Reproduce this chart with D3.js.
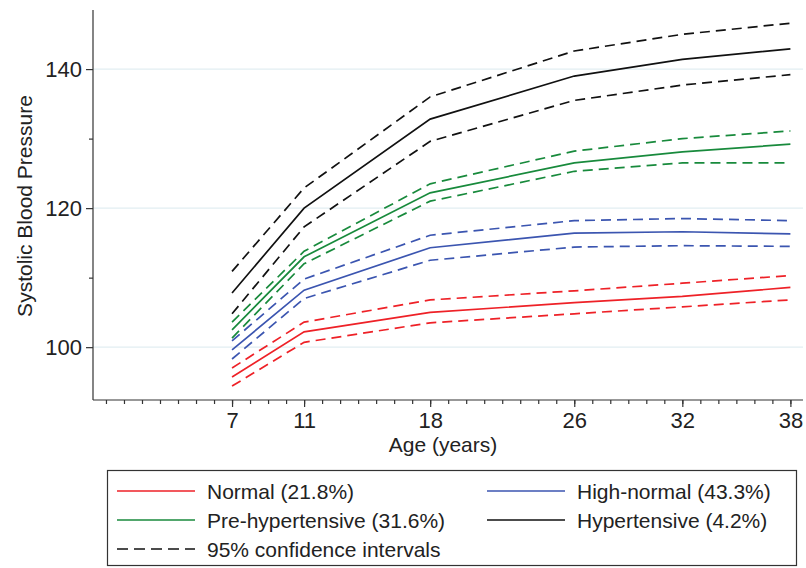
<!DOCTYPE html>
<html>
<head>
<meta charset="utf-8">
<script src="https://cdn.jsdelivr.net/npm/d3@7.9.0/dist/d3.min.js"></script>
<style>
  html, body { margin: 0; padding: 0; background: #fff; }
  svg { display: block; font-family: "Liberation Sans", Arial, sans-serif; }
</style>
</head>
<body>
<svg id="chart" width="806" height="568"></svg>
<script>
// --- data ---
const ages = [7, 11, 18, 26, 32, 38];
const groups = ['Normal (21.8%)', 'High-normal (43.3%)', 'Pre-hypertensive (31.6%)', 'Hypertensive (4.2%)'];
const groupColors = ['#ee2127', '#3b55b0', '#188a3c', '#111111'];

const normalMean = [95.7, 102.2, 105.0, 106.4, 107.3, 108.6];
const normalUpper = [97.0, 103.6, 106.8, 108.1, 109.2, 110.3];
const normalLower = [94.4, 100.7, 103.5, 104.8, 105.8, 106.8];

const highNormalMean = [99.6, 108.2, 114.3, 116.4, 116.6, 116.3];
const highNormalUpper = [100.9, 109.8, 116.1, 118.2, 118.5, 118.2];
const highNormalLower = [98.3, 107.0, 112.5, 114.4, 114.6, 114.5];

const preHyperMean = [102.5, 113.0, 122.2, 126.5, 128.1, 129.2];
const preHyperUpper = [103.6, 113.8, 123.5, 128.2, 130.0, 131.1];
const preHyperLower = [101.3, 112.0, 121.0, 125.3, 126.5, 126.5];

const hyperMean = [107.8, 120.0, 132.8, 139.0, 141.4, 142.9];
const hyperUpper = [110.9, 122.9, 136.0, 142.6, 145.0, 146.6];
const hyperLower = [104.8, 117.3, 129.6, 135.5, 137.7, 139.2];

const yTicks = [100, 120, 140];
const yMinorTicks = [110, 130];
const xMinorTicks = d3.range(0, 39);

const series = [
  { mean: normalMean, upper: normalUpper, lower: normalLower },
  { mean: highNormalMean, upper: highNormalUpper, lower: highNormalLower },
  { mean: preHyperMean, upper: preHyperUpper, lower: preHyperLower },
  { mean: hyperMean, upper: hyperUpper, lower: hyperLower }
];

// --- scales ---
const svg = d3.select('#chart');
const plotLeft = 93, plotRight = 803, plotTop = 10, plotBottom = 400;

const x = d3.scaleLinear().domain([-0.72, 38.7]).range([plotLeft, plotRight]);
const y = d3.scaleLinear().domain([92.4, 148.5]).range([plotBottom, plotTop]);

// gridlines
svg.append('g')
  .selectAll('line')
  .data(yTicks)
  .join('line')
  .attr('x1', plotLeft).attr('x2', plotRight)
  .attr('y1', d => y(d)).attr('y2', d => y(d))
  .attr('stroke', '#e2eef2').attr('stroke-width', 1.2);

// y axis
const yAxis = svg.append('g')
  .attr('transform', `translate(${plotLeft},0)`)
  .call(d3.axisLeft(y).tickValues(yTicks).tickSize(7).tickPadding(4).tickFormat(d3.format('d')));
yAxis.select('.domain').attr('d', `M0,${plotTop}V${plotBottom}`);
svg.append('g')
  .attr('transform', `translate(${plotLeft},0)`)
  .call(d3.axisLeft(y).tickValues(yMinorTicks).tickSize(4).tickFormat(''))
  .select('.domain').remove();

// x axis
const xAxis = svg.append('g')
  .attr('transform', `translate(0,${plotBottom})`)
  .call(d3.axisBottom(x).tickValues(ages).tickSize(7).tickPadding(5).tickFormat(d3.format('d')));
xAxis.select('.domain').attr('d', `M${plotLeft},0H${plotRight}`);
svg.append('g')
  .attr('transform', `translate(0,${plotBottom})`)
  .call(d3.axisBottom(x).tickValues(xMinorTicks).tickSize(4).tickFormat(''))
  .select('.domain').remove();

svg.selectAll('.domain, .tick line').attr('stroke', '#333').attr('stroke-width', 1.2);
svg.selectAll('.tick text').attr('font-size', 22).attr('fill', '#222')
  .attr('font-family', '"Liberation Sans", Arial, sans-serif');

// axis titles
svg.append('text')
  .attr('x', 443).attr('y', 452)
  .attr('text-anchor', 'middle')
  .attr('font-size', 21).attr('fill', '#222')
  .text('Age (years)');
svg.append('text')
  .attr('transform', `translate(32,${206}) rotate(-90)`)
  .attr('text-anchor', 'middle')
  .attr('font-size', 21).attr('fill', '#222')
  .text('Systolic Blood Pressure');

// --- lines ---
const line = d3.line()
  .x((d, i) => x(ages[i]))
  .y(d => y(d));

const plot = svg.append('g');
series.forEach((s, i) => {
  ['upper', 'lower'].forEach(k => {
    plot.append('path')
      .attr('d', line(s[k]))
      .attr('fill', 'none')
      .attr('stroke', groupColors[i])
      .attr('stroke-width', 1.7)
      .attr('stroke-dasharray', '10,6');
  });
  plot.append('path')
    .attr('d', line(s.mean))
    .attr('fill', 'none')
    .attr('stroke', groupColors[i])
    .attr('stroke-width', 1.7);
});

// --- legend ---
const legend = svg.append('g');
legend.append('rect')
  .attr('x', 107.5).attr('y', 470.5)
  .attr('width', 689).attr('height', 95)
  .attr('fill', '#fff').attr('stroke', '#333').attr('stroke-width', 1.2);

const legendItems = groups.map((g, i) => ({
  label: g, color: groupColors[i], dash: null,
  col: i % 2, row: Math.floor(i / 2)
}));
legendItems.push({ label: '95% confidence intervals', color: '#111', dash: '11,6', col: 0, row: 2 });

const colX = [117, 487];
const rowY = [491, 520, 549];

const li = legend.selectAll('g.item')
  .data(legendItems)
  .join('g')
  .attr('class', 'item')
  .attr('transform', d => `translate(${colX[d.col]},${rowY[d.row]})`);
li.append('line')
  .attr('x1', 0).attr('x2', 78).attr('y1', 0).attr('y2', 0)
  .attr('stroke', d => d.color).attr('stroke-width', 1.7)
  .attr('stroke-dasharray', d => d.dash);
li.append('text')
  .attr('x', 90).attr('y', 7.5)
  .attr('font-size', 21).attr('fill', '#222')
  .text(d => d.label);
</script>
</body>
</html>
